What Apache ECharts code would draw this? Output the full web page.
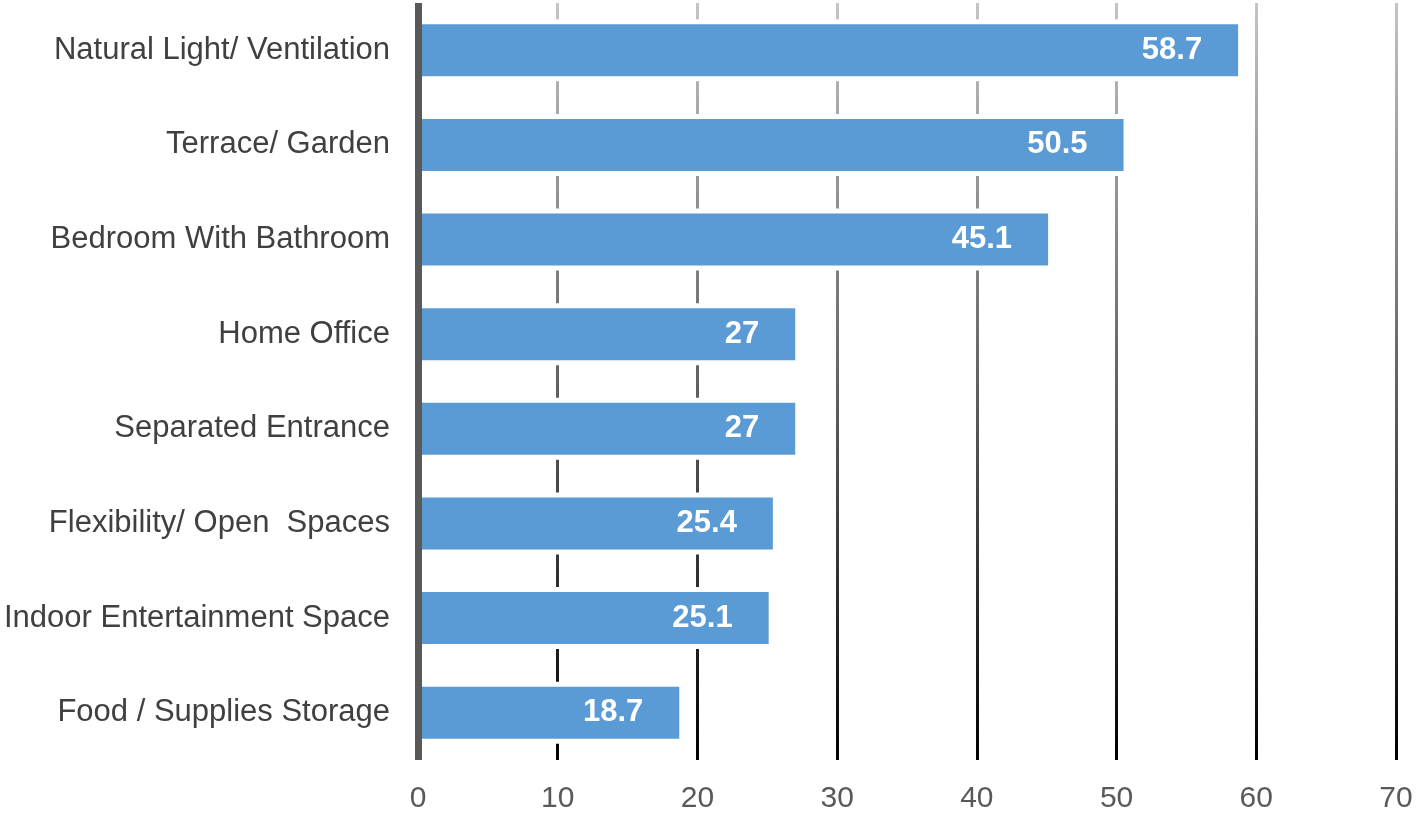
<!DOCTYPE html>
<html>
<head>
<meta charset="utf-8">
<script src="https://cdn.jsdelivr.net/npm/echarts@6/dist/echarts.min.js"></script>
<style>
html,body{margin:0;padding:0;background:#fff;}
#chart{width:1416px;height:814px;}
</style>
</head>
<body>
<div id="chart"></div>
<script>
const categories = [
  "Natural Light/ Ventilation",
  "Terrace/ Garden",
  "Bedroom With Bathroom",
  "Home Office",
  "Separated Entrance",
  "Flexibility/ Open  Spaces",
  "Indoor Entertainment Space",
  "Food / Supplies Storage"
];
const values = [58.7, 50.5, 45.1, 27, 27, 25.4, 25.1, 18.7];
const xTicks = [0, 10, 20, 30, 40, 50, 60, 70];

const GRID_TOP = 3, GRID_BOTTOM = 51;
const chart = echarts.init(document.getElementById('chart'), null, {renderer: 'canvas'});
const font = "Arial, 'Liberation Sans', sans-serif";
const option = {
  animation: false,
  grid: {left: 418, right: 20, top: GRID_TOP, bottom: GRID_BOTTOM, containLabel: false},
  xAxis: {
    type: 'value', min: xTicks[0], max: xTicks[xTicks.length - 1], interval: 10,
    axisLine: {show: false}, axisTick: {show: false},
    axisLabel: {color: '#595959', fontSize: 30, fontFamily: font, margin: 24},
    splitLine: {show: true, lineStyle: {width: 3,
      color: new echarts.graphic.LinearGradient(0, GRID_TOP, 0, 814 - GRID_BOTTOM, [
        {offset: 0, color: '#c4c4c4'}, {offset: 1, color: '#000000'}], true)}}
  },
  yAxis: [{
    type: 'category', data: categories, inverse: true, z: 5,
    axisLine: {show: true, lineStyle: {color: '#595959', width: 7, cap: 'butt'}},
    axisTick: {show: false},
    axisLabel: {color: '#404040', fontSize: 31, fontFamily: font, margin: 28},
    splitLine: {show: false}
  }, {
    type: 'category', data: categories, inverse: true, show: false
  }],
  series: [{
    type: 'bar', yAxisIndex: 1, data: values, barWidth: 62, z: 1, silent: true,
    itemStyle: {color: '#ffffff'}
  }, {
    type: 'bar', yAxisIndex: 0, data: values, barWidth: 52, z: 2,
    itemStyle: {color: '#5B9BD5'},
    label: {show: true, position: 'insideRight', distance: 36, color: '#ffffff',
      fontSize: 31, fontWeight: 'bold', fontFamily: font}
  }]
};
chart.setOption(option);
</script>
</body>
</html>
